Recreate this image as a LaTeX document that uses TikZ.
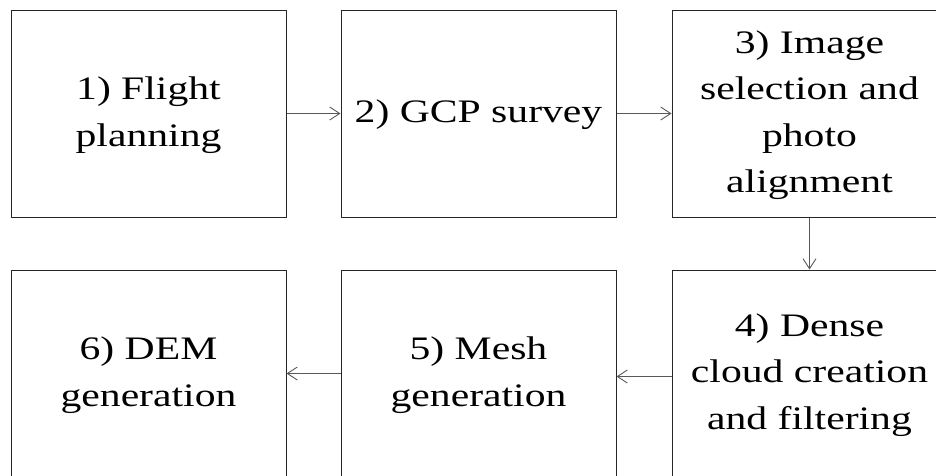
\documentclass[tikz,border=0pt]{standalone}
\usepackage{fontspec}
\setmainfont{Liberation Serif}
\usepackage{graphicx}
\usetikzlibrary{arrows.meta}
\newcommand{\stxt}[1]{\scalebox{1.27}[1]{\begin{tabular}{@{}c@{}}#1\end{tabular}}}
\begin{document}
\begin{tikzpicture}[x=1pt,y=-1pt,
  stepbox/.style={draw=black!85, line width=1pt, minimum width=275pt, minimum height=207pt,
    align=center, font=\fontsize{32.8}{46.5}\selectfont, inner sep=0pt},
  conn/.style={draw=black!65, line width=0.9pt, -{Straight Barb[length=10pt,width=13pt]}}]
\useasboundingbox (0,0) rectangle (936,475);
\clip (0,0) rectangle (936,475);
\node[stepbox] (b1) at (148.5,113.5) {\stxt{1) Flight\\planning}};
\node[stepbox] (b2) at (478.5,113.5) {\stxt{2) GCP survey}};
\node[stepbox] (b3) at (809.5,113.5) {\stxt{3) Image\\selection and\\photo\\alignment}};
\node[stepbox] (b4) at (809.5,373.5) {\stxt{4) Dense\\cloud creation\\and filtering}};
\node[stepbox] (b5) at (478.5,373.5) {\stxt{5) Mesh\\generation}};
\node[stepbox] (b6) at (148.5,373.5) {\stxt{6) DEM\\generation}};
\draw[conn] (b1) -- (b2);
\draw[conn] (b2) -- (b3);
\draw[conn] (b3) -- (b4);
\draw[conn] ([yshift=-3pt]b4.west) -- ([yshift=-3pt]b5.east);
\draw[conn] (b5) -- (b6);
\end{tikzpicture}
\end{document}
